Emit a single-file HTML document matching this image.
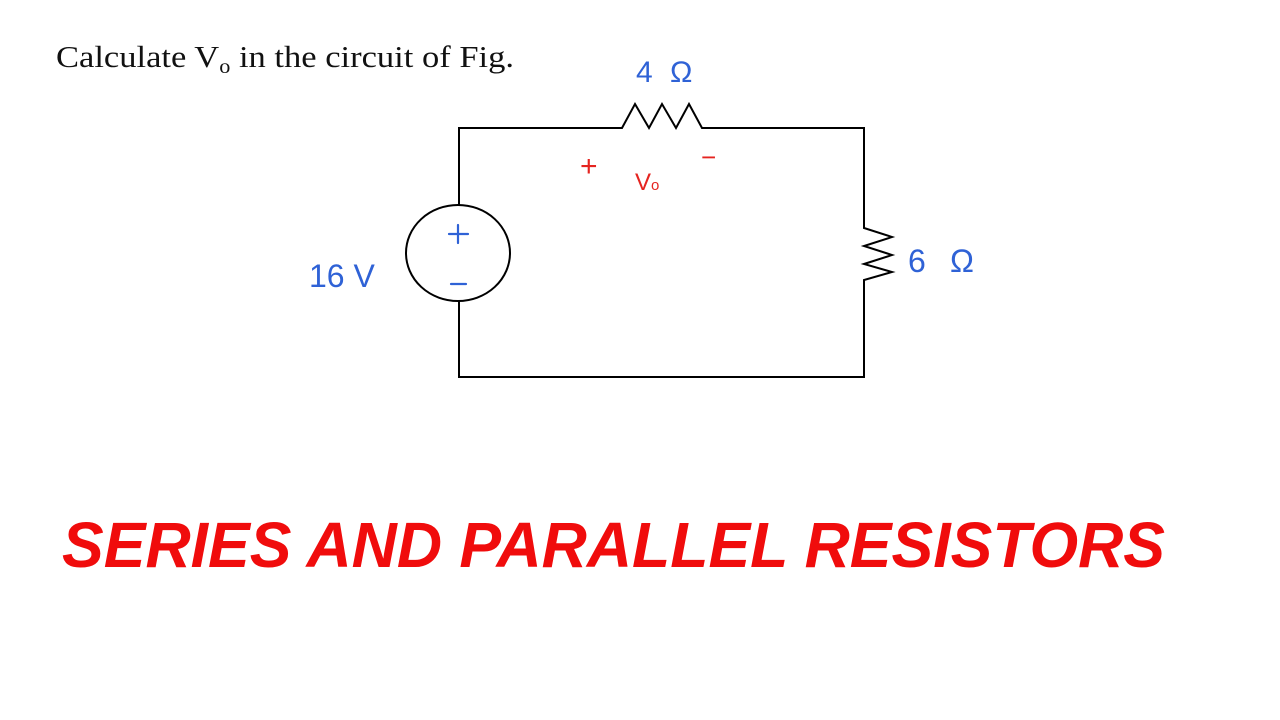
<!DOCTYPE html>
<html><head><style>
html,body{margin:0;padding:0;background:#fff;width:1280px;height:720px;overflow:hidden}
</style></head><body>
<svg width="1280" height="720" viewBox="0 0 1280 720" xmlns="http://www.w3.org/2000/svg">
<rect width="1280" height="720" fill="#fff"/>
<text x="56" y="67" textLength="458" lengthAdjust="spacingAndGlyphs" font-family="Liberation Serif, serif" font-size="31" fill="#111">Calculate V<tspan font-size="20" dy="6">o</tspan><tspan dy="-6"> in the circuit of Fig.</tspan></text>
<g fill="none" stroke="#000" stroke-width="2">
<polyline points="459,205 459,128 622,128 635,104 649,128 662,104 676,128 689,104 702,128 864,128 864,228 892,237 864,246 892,255 864,264 892,272 864,280 864,377 459,377 459,300"/>
<ellipse cx="458" cy="253" rx="52" ry="48"/>
</g>
<g fill="none" stroke="#2f62d6" stroke-width="2.2" stroke-linecap="round">
<path d="M449,234 H468 M458,225 V243"/>
<path d="M451,284 H466"/>
</g>
<g font-family="Liberation Sans, sans-serif" fill="#2f62d6">
<text x="636" y="82" font-size="30">4</text>
<text x="670" y="82" font-size="30">Ω</text>
<text x="309" y="287" font-size="32">16 V</text>
<text x="908" y="272" font-size="32">6</text>
<text x="950" y="272" font-size="32">Ω</text>
</g>
<g font-family="Liberation Sans, sans-serif" fill="#e52420">
<text x="580" y="176" font-size="30">+</text>
<text x="701" y="166" font-size="26">−</text>
<text x="635" y="190" font-size="24">V<tspan font-size="15">o</tspan></text>
</g>
<text x="62" y="567" textLength="1103" lengthAdjust="spacingAndGlyphs" font-family="Liberation Sans, sans-serif" font-weight="bold" font-style="italic" font-size="64" fill="#f00c0c">SERIES AND PARALLEL RESISTORS</text>
</svg>
</body></html>
